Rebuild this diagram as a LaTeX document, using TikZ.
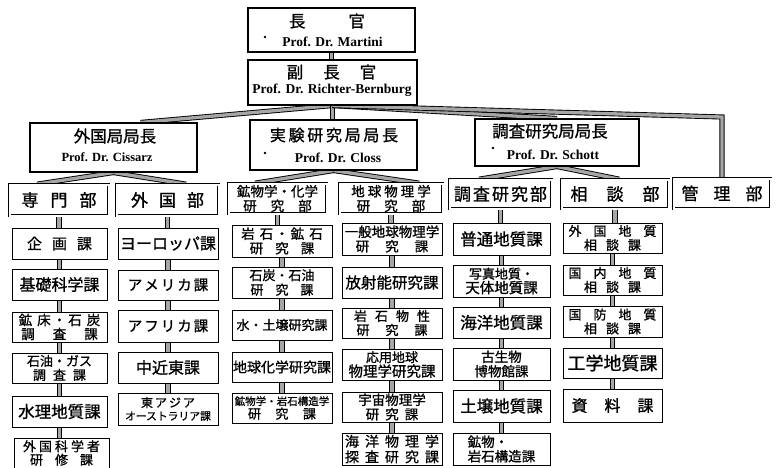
\documentclass[tikz,border=0pt]{standalone}
\usepackage{fontspec}
\setmainfont{Noto Sans CJK JP}[FakeBold=1]
\newfontfamily\lat{Liberation Serif}
\usetikzlibrary{calc}
\pgfdeclarelayer{back}
\pgfsetlayers{back,main}
\newcommand\gp[1]{\hspace{#1pt}}
\newcommand\fz[2]{\fontsize{#1}{#2}\selectfont}
\newcommand\bx[7]{\node[#1, minimum width={(#4-#2)*1pt}, minimum height={(#5-#3)*1pt}] (#6) at ({(#2+#4)/2},{(#3+#5)/2}) {#7};}
\tikzset{
  hd/.style={draw, line width=1.1pt, fill=white, inner sep=0pt},
  bu/.style={draw, line width=0.7pt, double, double distance=2pt, fill=white, inner sep=0pt, align=center},
  ka/.style={draw, line width=1pt, fill=white, inner sep=0pt, align=center},
  conn/.style={draw=black, line width=0.9pt, double=gray!70, double distance=3.3pt, line join=miter},
  latn/.style={inner sep=0pt},
  cjk/.style={inner sep=0pt}
}
\begin{document}
\begin{tikzpicture}[x=1pt,y=-1pt]
\useasboundingbox (0,0) rectangle (776,468);
\clip (0,0) rectangle (776,468);

% ---------- boxes (nodes) ----------
% heads
\bx{hd}{248}{8}{415}{52}{chokan}{}
\bx{hd}{248}{60}{417}{105}{fuku}{}
\bx{hd}{30}{123}{197}{172}{gai}{}
\bx{hd}{250}{120}{417}{170}{jik}{}
\bx{hd}{475}{119}{639}{166}{cho}{}

% departments
\bx{bu, font=\fz{17}{20}}{9.5}{184.5}{108.5}{215.5}{sen}{専\gp{12}門\gp{12}部}
\bx{bu, font=\fz{17}{20}}{116.5}{184.5}{218.5}{215.5}{gaib}{外\gp{11}国\gp{11}部}
\bx{bu, font=\fz{13.5}{14.5}}{228.5}{183.5}{326.5}{213.5}{kob}{鉱物学・化学\\研\gp{14}究\gp{14}部}
\bx{bu, font=\fz{13.5}{14.5}}{339.5}{183.5}{442.5}{213.5}{chik}{地\gp{3}球\gp{3}物\gp{3}理\gp{3}学\\研\gp{14}究\gp{14}部}
\bx{bu, font=\fz{17}{20}}{449.5}{179.5}{551.5}{208.5}{chosa}{調\gp{2}査\gp{2}研\gp{2}究\gp{2}部}
\bx{bu, font=\fz{17}{20}}{561.5}{179.5}{668.5}{208.5}{sodan}{相\gp{19}談\gp{19}部}
\bx{bu, font=\fz{17}{20}}{673.5}{178.5}{770.5}{208.5}{kanri}{管\gp{15}理\gp{15}部}

% column 1
\bx{ka, font=\fz{15}{16}}{12}{228}{107}{259}{k11}{企\gp{10}画\gp{10}課}
\bx{ka, font=\fz{16}{17}}{12}{269}{107}{300}{k12}{基礎科学課}
\bx{ka, font=\fz{13.5}{14}}{12}{312}{107}{342}{k13}{鉱\gp{5}床\gp{2}・\gp{2}石\gp{5}炭\\調\gp{18}査\gp{18}課}
\bx{ka, font=\fz{13}{14}}{12}{353}{107}{383}{k14}{石油・ガス\\調\gp{7}査\gp{7}課}
\bx{ka, font=\fz{16.5}{17}}{12}{396}{107}{427}{k15}{水理地質課}
\bx{ka, font=\fz{13}{13.5}}{14}{438}{109}{468}{k16}{外\gp{3}国\gp{3}科\gp{3}学\gp{3}者\\研\gp{12}修\gp{12}課}

% column 2
\bx{ka, font=\fz{16}{17}}{118}{228}{218}{259}{k21}{ヨーロッパ課}
\bx{ka, font=\fz{14.5}{15}}{118}{270}{218}{300}{k22}{ア\gp{2}メ\gp{2}リ\gp{2}カ\gp{2}課}
\bx{ka, font=\fz{14.5}{15}}{118}{310}{218}{342}{k23}{ア\gp{2}フ\gp{2}リ\gp{2}カ\gp{2}課}
\bx{ka, font=\fz{16}{17}}{118}{352}{218}{383}{k24}{中近東課}
\bx{ka, font=\fz{12}{13}}{118}{393}{218}{425}{k25}{東\gp{2}ア\gp{2}ジ\gp{2}ア\\{\fz{10.8}{13}オーストラリア課}}

% column 3
\bx{ka, font=\fz{13.5}{14.5}}{232}{225}{332}{257}{k31}{岩\gp{5}石\gp{2}・\gp{2}鉱\gp{5}石\\研\gp{12}究\gp{12}課}
\bx{ka, font=\fz{13}{14.5}}{232}{267}{332}{298}{k32}{石炭・石油\\研\gp{12}究\gp{12}課}
\bx{ka, font=\fz{13}{14}}{232}{310}{332}{340}{k33}{水・土壌研究課}
\bx{ka, font=\fz{14}{15}}{232}{352}{332}{382}{k34}{地球化学研究課}
\bx{ka, font=\fz{10.5}{13.5}}{232}{393}{332}{423}{k35}{鉱物学・岩石構造学\\{\fz{13}{13.5}研\gp{14.5}究\gp{14.5}課}}

% column 4
\bx{ka, font=\fz{13.5}{14.5}}{342}{223}{442}{255}{k41}{一般地球物理学\\研\gp{16}究\gp{16}課}
\bx{ka, font=\fz{15.5}{16}}{342}{267}{442}{298}{k42}{放射能研究課}
\bx{ka, font=\fz{13}{14}}{342}{308}{442}{338}{k43}{岩\gp{8}石\gp{8}物\gp{8}性\\研\gp{16}究\gp{16}課}
\bx{ka, font=\fz{13}{14.5}}{342}{349}{442}{380}{k44}{応用地球\\{\fz{14.5}{14.5}物理学研究課}}
\bx{ka, font=\fz{13.5}{14.5}}{342}{392}{442}{422}{k45}{宇宙物理学\\研\gp{6}究\gp{6}課}
\bx{ka, font=\fz{14}{15.5}}{342}{433}{442}{465}{k46}{海\gp{6}洋\gp{6}物\gp{6}理\gp{6}学\\探\gp{6}査\gp{6}研\gp{6}究\gp{6}課}

% column 5
\bx{ka, font=\fz{16.5}{17}}{453}{223}{550}{255}{k51}{普通地質課}
\bx{ka, font=\fz{13}{14.5}}{453}{265}{550}{297}{k52}{写真地質・\\{\fz{14.5}{14.5}天体地質課}}
\bx{ka, font=\fz{16.5}{17}}{453}{307}{550}{338}{k53}{海洋地質課}
\bx{ka, font=\fz{13.5}{14.5}}{453}{348}{550}{380}{k54}{古生物\\博物館課}
\bx{ka, font=\fz{16.5}{17}}{453}{390}{550}{422}{k55}{土壌地質課}
\bx{ka, align=left, font=\fz{13.5}{14.5}}{453}{433}{550}{465}{k56}{鉱物・\\岩石構造課}

% column 6
\bx{ka, font=\fz{13}{14}}{563}{223}{662}{253}{k61}{外\gp{12}国\gp{12}地\gp{12}質\\相\gp{9}談\gp{9}課}
\bx{ka, font=\fz{13}{14}}{563}{265}{662}{295}{k62}{国\gp{12}内\gp{12}地\gp{12}質\\相\gp{9}談\gp{9}課}
\bx{ka, font=\fz{13}{14}}{563}{306}{662}{337}{k63}{国\gp{12}防\gp{12}地\gp{12}質\\相\gp{9}談\gp{9}課}
\bx{ka, font=\fz{18}{18}}{563}{348}{662}{378}{k64}{工学地質課}
\bx{ka, font=\fz{16}{17}}{563}{389}{662}{422}{k65}{資\gp{17}料\gp{17}課}

% ---------- connectors (behind boxes) ----------
\coordinate (kc) at (722,117);
\begin{pgfonlayer}{back}
\fill[white] (0,0) rectangle (776,468);
\draw[conn] (chokan.south) -- (chokan.south |- fuku.north);
\draw[conn] (fuku.south) -- ($(gai.north)+(27,0)$);
\draw[conn] (fuku.south) -- (fuku.south |- jik.north);
\draw[conn] (fuku.south) -- (cho.north);
\draw[conn] (fuku.south) -- (kc) -- (kc |- kanri.north);
\draw[conn] (gai.south) -- ($(sen.north west)+(28,0)$);
\draw[conn] (gai.south) -- ($(gaib.north west)+(70,0)$);
\draw[conn] (jik.south) -- ($(kob.north west)+(27,0)$);
\draw[conn] (jik.south) -- ($(chik.north west)+(80,0)$);
\draw[conn] (cho.south) -- ($(chosa.north west)+(30,0)$);
\draw[conn] (cho.south) -- ($(sodan.north west)+(58,0)$);
\foreach \a/\b in {sen/k11,k11/k12,k12/k13,k13/k14,k14/k15,k15/k16,
                   gaib/k21,k21/k22,k22/k23,k23/k24,k24/k25,
                   kob/k31,k31/k32,k32/k33,k33/k34,k34/k35,
                   chik/k41,k41/k42,k42/k43,k43/k44,k44/k45,k45/k46,
                   chosa/k51,k51/k52,k52/k53,k53/k54,k54/k55,k55/k56,
                   sodan/k61,k61/k62,k62/k63,k63/k64,k64/k65}
  \draw[conn] (\a.south) -- (\a.south |- \b.north);
\end{pgfonlayer}

% ---------- head texts ----------
\node[cjk, font=\fz{16.5}{16.5}] (t1) at (327,21) {長\gp{43}官};
\node[latn, font=\lat\bfseries\fz{13.5}{14}] (p1) at (332.5,42) {Prof. Dr. Martini};
\node[cjk, font=\fz{16.5}{16.5}] (t2) at (331.5,72) {副\gp{20}長\gp{20}官};
\node[latn, font=\lat\bfseries\fz{13.5}{14}] (p2) at (332,90) {Prof. Dr. Richter-Bernburg};
\node[cjk, font=\fz{16.5}{16.5}] (t3) at (115,136) {外国局局長};
\node[latn, font=\lat\bfseries\fz{12.5}{13}] (p3) at (107,157) {Prof. Dr. Cissarz};
\node[cjk, font=\fz{16}{16}] (t4) at (334,135) {実\gp{2.7}験\gp{2.7}研\gp{2.7}究\gp{2.7}局\gp{2.7}局\gp{2.7}長};
\node[latn, font=\lat\bfseries\fz{13.5}{14}] (p4) at (338,158) {Prof. Dr. Closs};
\node[cjk, font=\fz{16.5}{16.5}] (t5) at (550,131) {調査研究局局長};
\node[latn, font=\lat\bfseries\fz{13.5}{14}] (p5) at (553,155) {Prof. Dr. Schott};
\fill (265,37) circle (1.3);
\fill (265,153) circle (1.3);
\fill (493,148) circle (1.3);
\end{tikzpicture}
\end{document}
